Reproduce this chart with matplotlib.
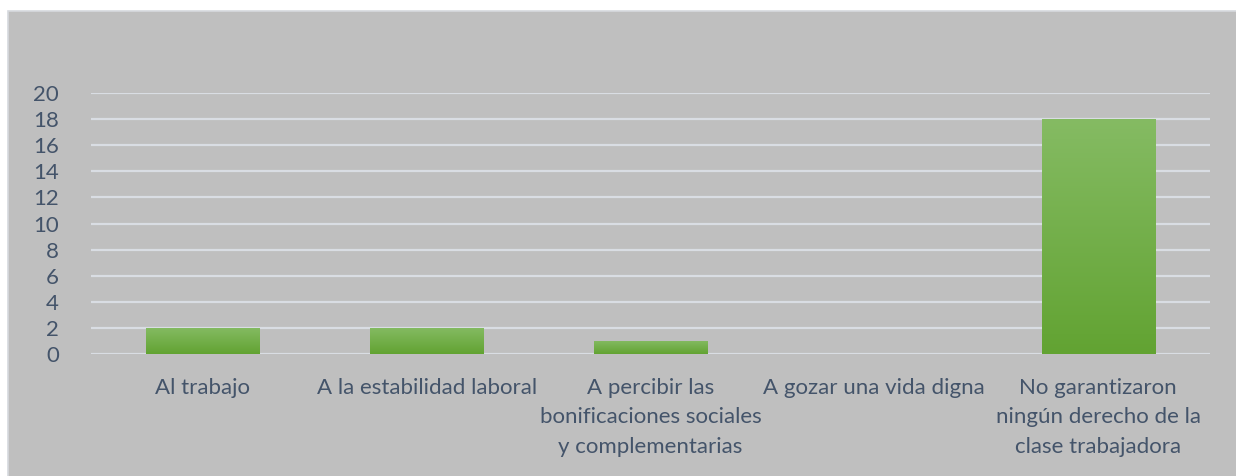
import numpy as np
import matplotlib.pyplot as plt
from matplotlib.colors import LinearSegmentedColormap

plt.rcParams.update({
    "font.family": ["Lato", "DejaVu Sans"],
    "font.size": 16,
})

categories = [
    "Al trabajo",
    "A la estabilidad laboral",
    "A percibir las\nbonificaciones sociales\ny complementarias",
    "A gozar una vida digna",
    "No garantizaron\nningún derecho de la\nclase trabajadora",
]
values = [2, 2, 1, 0, 18]
yticks = list(range(0, 21, 2))

BG = "#bfbfbf"
GRID = "#d9dde3"
TEXT = "#44546a"
green = LinearSegmentedColormap.from_list("g", ["#62a332", "#85bb63"])

fig = plt.figure(figsize=(12.36, 4.76), dpi=100)
fig.patch.set_facecolor("white")
# chart background panel (drawn below the axes)
fig.patches.append(plt.Rectangle((8 / 1236, -0.01), 1, 1 - 11 / 476 + 0.01,
                                 transform=fig.transFigure, facecolor=BG,
                                 edgecolor="#d6d9de", linewidth=1.2, zorder=-5))

ax = fig.add_axes([91 / 1236, 1 - 354 / 476, (1210 - 91) / 1236, (354 - 93) / 476])
ax.set_facecolor("none")
x = np.arange(len(categories))
bars = ax.bar(x, values, width=0.505, color="none", zorder=3)
grad = np.linspace(0, 1, 256).reshape(-1, 1)
for b in bars:
    if b.get_height() <= 0:
        continue
    x0, y0 = b.get_x(), b.get_y()
    im = ax.imshow(grad, cmap=green, origin="lower", aspect="auto",
                   extent=[x0, x0 + b.get_width(), y0, y0 + b.get_height()], zorder=3)
    im.set_clip_path(b)

ax.set_xlim(-0.5, len(categories) - 0.5)
ax.set_ylim(0, 20)
ax.set_yticks(yticks)
ax.set_xticks(x)
ax.set_xticklabels(categories, color=TEXT, linespacing=1.6, va="top")
ax.tick_params(axis="y", colors=TEXT, length=0, pad=23)
ax.tick_params(axis="x", colors=TEXT, length=0, pad=17)
ax.grid(axis="y", color=GRID, linewidth=1.6, zorder=1)
for s in ax.spines.values():
    s.set_visible(False)

fig.savefig("out.png", dpi=100, facecolor=fig.get_facecolor())
